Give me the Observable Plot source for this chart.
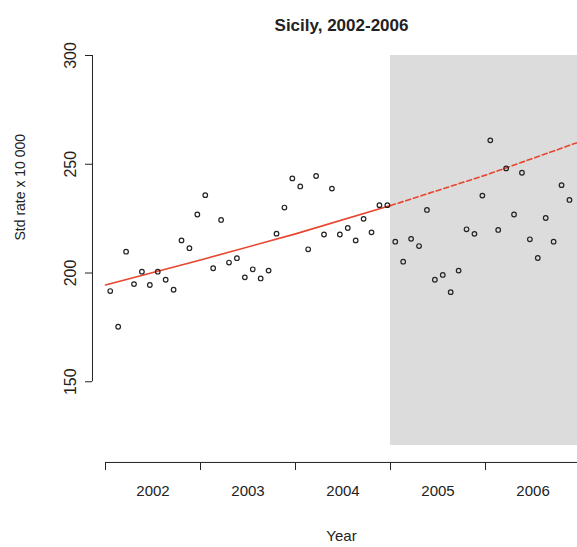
<!DOCTYPE html>
<html>
<head>
<meta charset="utf-8">
<script src="https://cdn.jsdelivr.net/npm/d3@7"></script>
<script src="https://cdn.jsdelivr.net/npm/@observablehq/plot@0.6"></script>
<style>body{margin:0;background:#fff}</style>
</head>
<body>
<div id="chart"></div>
<script>
// monthly standardised rates, Jan 2002 .. Nov 2006
const rates = [191.7,175.3,209.8,194.9,200.6,194.5,200.6,196.9,192.3,215,211.4,226.9,
  235.8,202.2,224.4,204.8,206.8,198,201.7,197.5,201.1,218.1,230.1,243.5,
  239.8,210.9,244.6,217.7,238.8,217.7,220.7,215,224.9,218.7,231.2,231.2,
  214.4,205.2,215.7,212.4,229,196.9,199.1,191.2,201.1,220.1,218,235.6,
  261,219.8,248.1,226.9,246.1,215.5,206.9,225.3,214.4,240.4,233.6];
const years = ["2002", "2003", "2004", "2005", "2006"];
// fitted trend, read at year starts
const fitYears = [2002, 2003, 2004, 2005, 2006, 2006.97];
const fitValues = [194.5, 206, 218, 231, 245, 260];

const data = rates.map((v, i) => ({t: 2002 + i / 12 + 0.05, v}));
const fit = fitYears.map((t, i) => ({t, v: fitValues[i]}));
const fitPast = fit.filter(d => d.t <= 2005);
const fitFuture = fit.filter(d => d.t >= 2005);

const yMin = 120.7, yMax = 300;
const chart = Plot.plot({
  width: 577,
  height: 547,
  marginLeft: 105,
  marginRight: 0,
  marginTop: 55,
  marginBottom: 102,
  x: {domain: [2002, 2006.968]},
  y: {domain: [yMin, yMax]},
  style: {fontFamily: "Liberation Sans, Arial, sans-serif", fontSize: 14, color: "#222"},
  marks: [
    Plot.rect([{x1: 2005, x2: 2006.968}], {x1: "x1", x2: "x2", y1: yMin, y2: yMax, fill: "#dcdcdd"}),
    // y axis
    Plot.ruleX([2001.863], {y1: 150, y2: 300, stroke: "#222"}),
    Plot.axisY({ticks: [150, 200, 250, 300], anchor: "left", dx: -13, tickSize: 7,
      tickRotate: -90, tickPadding: 10, label: null, fontSize: 16}),
    Plot.text(["Std rate x 10 000"], {frameAnchor: "left", dx: -85, dy: -10, rotate: -90, fontSize: 14}),
    // x axis
    Plot.ruleY([112.9], {x1: 2002, x2: 2006.968, stroke: "#222"}),
    Plot.axisX({ticks: [2002, 2003, 2004, 2005, 2006], tickFormat: () => "", anchor: "bottom", dy: 17, tickSize: 8, label: null}),
    Plot.text(years, {x: d => +d + 0.5, text: d => d, frameAnchor: "bottom", dy: 50, fontSize: 15}),
    Plot.text(["Year"], {frameAnchor: "bottom", dy: 95, fontSize: 15}),
    Plot.text(["Sicily, 2002-2006"], {frameAnchor: "top", dy: -37, fontWeight: "bold", fontSize: 17}),
    // trend
    Plot.line(fitPast, {x: "t", y: "v", stroke: "#e8452f", strokeWidth: 1.6}),
    Plot.line(fitFuture, {x: "t", y: "v", stroke: "#e8452f", strokeWidth: 1.6, strokeDasharray: "5,3"}),
    Plot.dot(data, {x: "t", y: "v", r: 2.3, stroke: "#222", strokeWidth: 1.2, fill: "none"})
  ]
});
document.getElementById("chart").append(chart);
</script>
</body>
</html>
